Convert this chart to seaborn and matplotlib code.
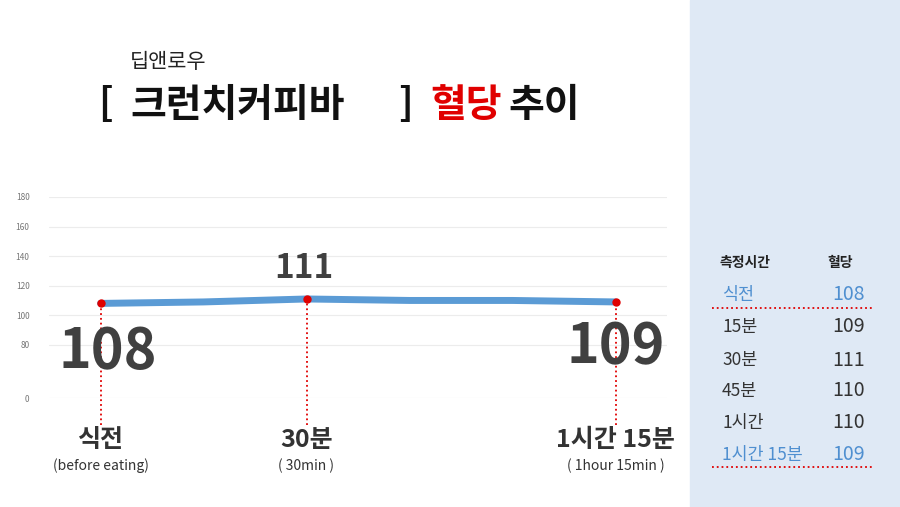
import numpy as np
import pandas as pd
import matplotlib.pyplot as plt
import seaborn as sns

times = ["식전", "15분", "30분", "45분", "1시간", "1시간 15분"]
glucose = [108, 109, 111, 110, 110, 109]
yticks = [0, 80, 100, 120, 140, 160, 180]
highlight = [0, 2, 5]
xlabels = ["식전", "30분", "1시간 15분"]
xsub = ["(before eating)", "( 30min )", "( 1hour 15min )"]

sns.set_theme(style="white")
plt.rcParams['font.family'] = ['Noto Sans CJK KR', 'DejaVu Sans']

def fwd(v):
    v = np.asarray(v, dtype=float)
    return np.where(v < 80, v / 80 * 1.8, 1.8 + (v - 80) / 20)

def inv(u):
    u = np.asarray(u, dtype=float)
    return np.where(u < 1.8, u / 1.8 * 80, 80 + (u - 1.8) * 20)

fig = plt.figure(figsize=(9, 5.07), dpi=100)
fig.patches.append(plt.Rectangle((690 / 900, 0), 210 / 900, 1, transform=fig.transFigure,
                                 color="#dfe9f5", zorder=0))
ax = fig.add_axes([49 / 900, 1 - 398 / 507, 618 / 900, 201 / 507])
ax.set_yscale("function", functions=(fwd, inv))

df = pd.DataFrame({"x": range(len(times)), "y": glucose})
sns.lineplot(data=df, x="x", y="y", ax=ax, color="#5b9bd5", lw=5, zorder=3)
ax.set_xlim(-0.5, len(times) - 0.5)
ax.set_ylim(0, 180)
ax.set_yticks(yticks)
ax.set_yticklabels([str(t) for t in yticks], fontsize=6, color="#777777")
ax.set_xticks([])
ax.set_xlabel(""); ax.set_ylabel("")
for t in yticks:
    ax.axhline(t, color="#ececec", lw=0.8, zorder=1)
for s in ax.spines.values():
    s.set_visible(False)
ax.tick_params(axis="y", length=0, pad=14)

for k, i in enumerate(highlight):
    ax.plot(i, glucose[i], "o", color="#e00000", ms=5, zorder=4)
    ax.vlines(i, -40, glucose[i], colors="#e00000", linestyles=":", lw=1.3, clip_on=False, zorder=2)
    ax.annotate(xlabels[k], (i, 0), xytext=(0, -30), textcoords="offset points", ha="center",
                va="center", fontsize=18, fontweight="bold", color="#333333", annotation_clip=False)
    ax.annotate(xsub[k], (i, 0), xytext=(0, -49), textcoords="offset points", ha="center",
                va="center", fontsize=10, color="#333333", annotation_clip=False)

ax.annotate(str(glucose[0]), (0, glucose[0]), xytext=(5, -35), textcoords="offset points",
            ha="center", va="center", fontsize=40, fontweight="bold", color="#404040")
ax.annotate(str(glucose[2]), (2, glucose[2]), xytext=(-2, 22), textcoords="offset points",
            ha="center", va="center", fontsize=24, fontweight="bold", color="#404040")
ax.annotate(str(glucose[5]), (5, glucose[5]), xytext=(0, -33), textcoords="offset points",
            ha="center", va="center", fontsize=40, fontweight="bold", color="#404040")

fig.text(130 / 900, 1 - 62 / 507, "딥앤로우", fontsize=15, va="center", color="#222222")
fig.text(98 / 900, 1 - 105 / 507, "[", fontsize=28, fontweight="bold", va="center", color="#111111")
fig.text(130 / 900, 1 - 105 / 507, "크런치커피바", fontsize=28, fontweight="bold", va="center", color="#111111")
fig.text(398 / 900, 1 - 105 / 507, "]", fontsize=28, fontweight="bold", va="center", color="#111111")
fig.text(430 / 900, 1 - 105 / 507, "혈당", fontsize=28, fontweight="bold", va="center", color="#e00000")
fig.text(508 / 900, 1 - 105 / 507, "추이", fontsize=28, fontweight="bold", va="center", color="#111111")

fig.text(720 / 900, 1 - 263 / 507, "측정시간", fontsize=10, fontweight="bold", va="center", color="#222222")
fig.text(827 / 900, 1 - 263 / 507, "혈당", fontsize=10, fontweight="bold", va="center", color="#222222")
row_y = [295, 327, 360, 391, 423, 455]
for i, (t, g) in enumerate(zip(times, glucose)):
    c = "#4f8fd0" if i in (0, len(times) - 1) else "#333333"
    fig.text(722 / 900, 1 - row_y[i] / 507, t, fontsize=12.5, va="center", color=c)
    fig.text(832 / 900, 1 - row_y[i] / 507, str(g), fontsize=14, va="center", color=c)
for yy in (308, 467):
    fig.add_artist(plt.Line2D([712 / 900, 873 / 900], [1 - yy / 507] * 2, color="#e00000",
                              ls=":", lw=1.3, transform=fig.transFigure))

fig.savefig("out.png", dpi=100)
